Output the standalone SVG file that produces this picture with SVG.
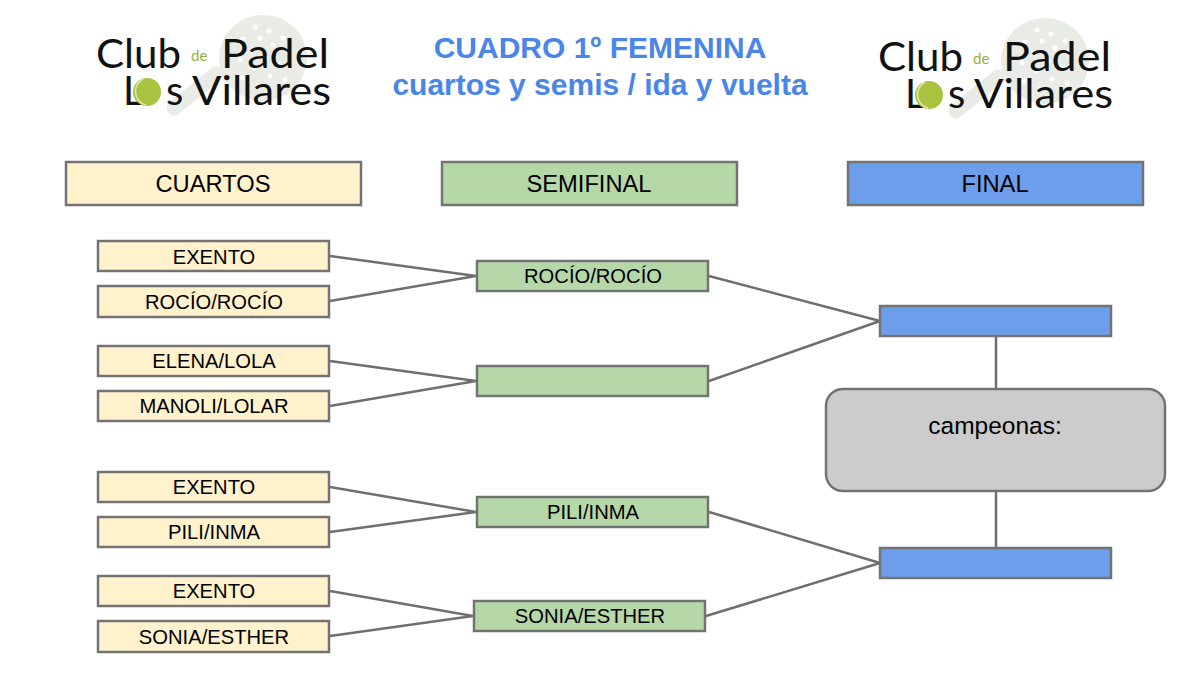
<svg xmlns="http://www.w3.org/2000/svg" width="1200" height="676" viewBox="0 0 1200 676">
<style>
text{font-family:"Liberation Sans",Arial,sans-serif;text-anchor:middle;fill:#000}
.b{stroke:#737373;stroke-width:2.5}
.y{fill:#fff2cc}.g{fill:#b6d7a8}.u{fill:#6d9eeb}.c{fill:#ccc}
.h{font-size:23.7px}.n{font-size:20.2px}
.t{font-size:30px;font-weight:bold;fill:#4a86e8}
.l{stroke:#6f6f6f;stroke-width:2.5;fill:none}
.lg{font-family:"Lato","Liberation Sans",sans-serif;font-weight:400;font-size:40px;fill:#111;text-anchor:start}
.de{font-family:"Lato","Liberation Sans",sans-serif;font-size:15px;fill:#8fb33a;text-anchor:start}
</style>
<defs>
<g id="racket">
<path d="M174 108L216 74" stroke="#e9ebe6" stroke-width="15" stroke-linecap="round"/>
<ellipse cx="263" cy="58" rx="44" ry="43" fill="#e9ebe6"/>
<g fill="#fff"><circle cx="255" cy="27" r="2.5"/><circle cx="269" cy="31" r="2.5"/><circle cx="283" cy="38" r="2.5"/><circle cx="260" cy="38" r="2.5"/><circle cx="243" cy="39" r="2.5"/><circle cx="273" cy="45" r="2.5"/><circle cx="252" cy="50" r="2.5"/><circle cx="288" cy="52" r="2.5"/><circle cx="266" cy="58" r="2.5"/><circle cx="280" cy="64" r="2.5"/><circle cx="240" cy="60" r="2.5"/><circle cx="254" cy="68" r="2.5"/><circle cx="270" cy="76" r="2.5"/><circle cx="285" cy="80" r="2.5"/><circle cx="242" cy="78" r="2.5"/><circle cx="258" cy="86" r="2.5"/></g>
</g>
</defs>
<g id="logo-left">
<use href="#racket"/>
<text class="lg" x="96" y="68" textLength="85" lengthAdjust="spacingAndGlyphs">Club</text>
<text class="de" x="191" y="61">de</text>
<text class="lg" x="221" y="68" textLength="108" lengthAdjust="spacingAndGlyphs">Padel</text>
<text class="lg" x="123 135 166" y="105">Los</text>
<text class="lg" x="192" y="105" textLength="139" lengthAdjust="spacingAndGlyphs">Villares</text>
<circle cx="147" cy="92" r="14" fill="#a9c23f"/>
<path d="M143 79a14 14 0 0 0 3 26" fill="none" stroke="#dfe8b0" stroke-width="1.5"/>
</g>
<g id="logo-right" transform="translate(782 3)">
<use href="#racket"/>
<text class="lg" x="96" y="68" textLength="85" lengthAdjust="spacingAndGlyphs">Club</text>
<text class="de" x="191" y="61">de</text>
<text class="lg" x="221" y="68" textLength="108" lengthAdjust="spacingAndGlyphs">Padel</text>
<text class="lg" x="123 135 166" y="105">Los</text>
<text class="lg" x="192" y="105" textLength="139" lengthAdjust="spacingAndGlyphs">Villares</text>
<circle cx="147" cy="92" r="14" fill="#a9c23f"/>
<path d="M143 79a14 14 0 0 0 3 26" fill="none" stroke="#dfe8b0" stroke-width="1.5"/>
</g>
<g id="title">
<text class="t" x="600" y="58">CUADRO 1º FEMENINA</text>
<text class="t" x="600" y="95">cuartos y semis / ida y vuelta</text>
</g>
<g id="connectors" class="l">
<path d="M330 256L476 276M330 301L476 276M330 361L476 381M330 406L476 381"/>
<path d="M330 487L476 512M330 532L476 512M330 591L473 616M330 636L473 616"/>
<path d="M709 276L880 321M709 381L880 321M709 512L880 563M706 616L880 563"/>
<path d="M996 337V388M996 492V547"/>
</g>
<g id="h-cuartos"><rect class="b y" x="66" y="162" width="295" height="43"/><text class="h" x="213" y="192">CUARTOS</text></g>
<g id="h-semifinal"><rect class="b g" x="442" y="162" width="295" height="43"/><text class="h" x="589" y="192">SEMIFINAL</text></g>
<g id="h-final"><rect class="b u" x="848" y="162" width="295" height="43"/><text class="h" x="995" y="192">FINAL</text></g>
<g id="q1"><rect class="b y" x="98" y="241" width="231" height="30"/><text class="n" x="214" y="264">EXENTO</text></g>
<g id="q2"><rect class="b y" x="98" y="286" width="231" height="31"/><text class="n" x="214" y="309">ROCÍO/ROCÍO</text></g>
<g id="q3"><rect class="b y" x="98" y="346" width="231" height="30"/><text class="n" x="214" y="368">ELENA/LOLA</text></g>
<g id="q4"><rect class="b y" x="98" y="391" width="231" height="30"/><text class="n" x="214" y="413">MANOLI/LOLAR</text></g>
<g id="q5"><rect class="b y" x="98" y="472" width="231" height="30"/><text class="n" x="214" y="494">EXENTO</text></g>
<g id="q6"><rect class="b y" x="98" y="517" width="231" height="30"/><text class="n" x="214" y="539">PILI/INMA</text></g>
<g id="q7"><rect class="b y" x="98" y="576" width="231" height="30"/><text class="n" x="214" y="598">EXENTO</text></g>
<g id="q8"><rect class="b y" x="98" y="621" width="231" height="31"/><text class="n" x="214" y="644">SONIA/ESTHER</text></g>
<g id="s1"><rect class="b g" x="477" y="261" width="231" height="30"/><text class="n" x="593" y="283">ROCÍO/ROCÍO</text></g>
<g id="s2"><rect class="b g" x="477" y="366" width="231" height="30"/></g>
<g id="s3"><rect class="b g" x="477" y="497" width="231" height="30"/><text class="n" x="593" y="519">PILI/INMA</text></g>
<g id="s4"><rect class="b g" x="474" y="601" width="231" height="30"/><text class="n" x="590" y="623">SONIA/ESTHER</text></g>
<g id="f1"><rect class="b u" x="880" y="306" width="231" height="30"/></g>
<g id="f2"><rect class="b u" x="880" y="548" width="231" height="30"/></g>
<g id="champ"><rect class="b c" x="826" y="389" width="339" height="102" rx="17"/><text class="n" x="995" y="434" style="font-size:24.5px">campeonas:</text></g>
</svg>
